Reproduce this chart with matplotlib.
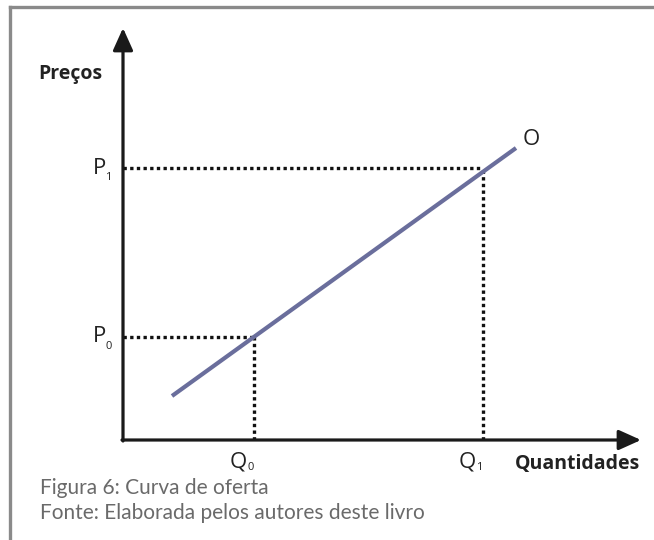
import matplotlib
matplotlib.use("Agg")
import matplotlib.pyplot as plt
from matplotlib.patches import ArrowStyle
from matplotlib.lines import Line2D

# Data (arbitrary units)
q_levels = [13.1, 36.0]          # Q0, Q1
p_levels = [10.3, 27.2]          # P0, P1
q_labels = ["0", "1"]
p_labels = ["0", "1"]
supply_q = [4.9, 39.3]
supply_p = [4.4, 29.2]
x_axis_end = 51.8
y_axis_end = 41.2

W, H = 654, 540
fig = plt.figure(figsize=(W / 100, H / 100), dpi=100)
ax = fig.add_axes([0, 0, 1, 1])
ax.set_xlim(-12.3, 53.1)
ax.set_ylim(-10.0, 44.0)
ax.axis("off")

# Frame (top and left gray border)
fig.add_artist(Line2D([10 / W, 1], [1 - 7 / H, 1 - 7 / H], color="#8a8a8a", lw=2.4,
                      transform=fig.transFigure))
fig.add_artist(Line2D([10 / W, 10 / W], [0, 1 - 7 / H], color="#8a8a8a", lw=2.4,
                      transform=fig.transFigure))

font_main = "Open Sans"
txt_col = "#222222"
style = ArrowStyle("-|>", head_length=0.8, head_width=0.36)
arrow_kw = dict(arrowstyle=style, lw=2.3, color="#1a1a1a", mutation_scale=17,
                shrinkA=0, shrinkB=0)
ax.annotate("", xy=(0, y_axis_end), xytext=(0, -0.1), arrowprops=arrow_kw)
ax.annotate("", xy=(x_axis_end, 0), xytext=(-0.1, 0), arrowprops=arrow_kw)

# Dotted guide lines
for q, p in zip(q_levels, p_levels):
    ax.plot([0, q], [p, p], color="#111111", lw=2.4, linestyle=(0, (1.0, 1.0)),
            dash_capstyle="butt")
    ax.plot([q, q], [0, p], color="#111111", lw=2.4, linestyle=(0, (1.0, 1.0)),
            dash_capstyle="butt")

# Supply line
ax.plot(supply_q, supply_p, color="#6a6e9c", lw=3.0, solid_capstyle="butt")
ax.annotate("O", xy=(supply_q[1], supply_p[1]), xytext=(5, 6), textcoords="offset points",
            fontsize=16, family=font_main, color=txt_col, ha="left", va="center")

# P labels
for p, lab in zip(p_levels, p_labels):
    ax.annotate("P", xy=(0, p), xytext=(-12, 0), textcoords="offset points",
                fontsize=16, family=font_main, color=txt_col, ha="right", va="center")
    ax.annotate(lab, xy=(0, p), xytext=(-8, -7), textcoords="offset points",
                fontsize=8, family=font_main, color=txt_col, ha="right", va="center")

# Q labels
for q, lab in zip(q_levels, q_labels):
    ax.annotate("Q", xy=(q, 0), xytext=(-11.5, -16), textcoords="offset points",
                fontsize=16, family=font_main, color=txt_col, ha="center", va="center")
    ax.annotate(lab, xy=(q, 0), xytext=(-2.5, -20), textcoords="offset points",
                fontsize=8, family=font_main, color=txt_col, ha="center", va="center")

# Axis titles
ax.annotate("Preços", xy=(0, y_axis_end), xytext=(-38, -33), textcoords="offset points",
            fontsize=14, fontweight="bold", family=font_main, color=txt_col,
            ha="center", va="center")
ax.annotate("Quantidades", xy=(x_axis_end, 0), xytext=(-46, -17.5), textcoords="offset points",
            fontsize=14, fontweight="bold", family=font_main, color=txt_col,
            ha="center", va="center")

# Caption
fig.text(40 / W, 1 - 488 / H, "Figura 6: Curva de oferta", fontsize=15, family="Lato",
         color="#6a6a6a", ha="left", va="center")
fig.text(40 / W, 1 - 513 / H, "Fonte: Elaborada pelos autores deste livro", fontsize=15,
         family="Lato", color="#6a6a6a", ha="left", va="center")

fig.savefig("out.png", dpi=100)
